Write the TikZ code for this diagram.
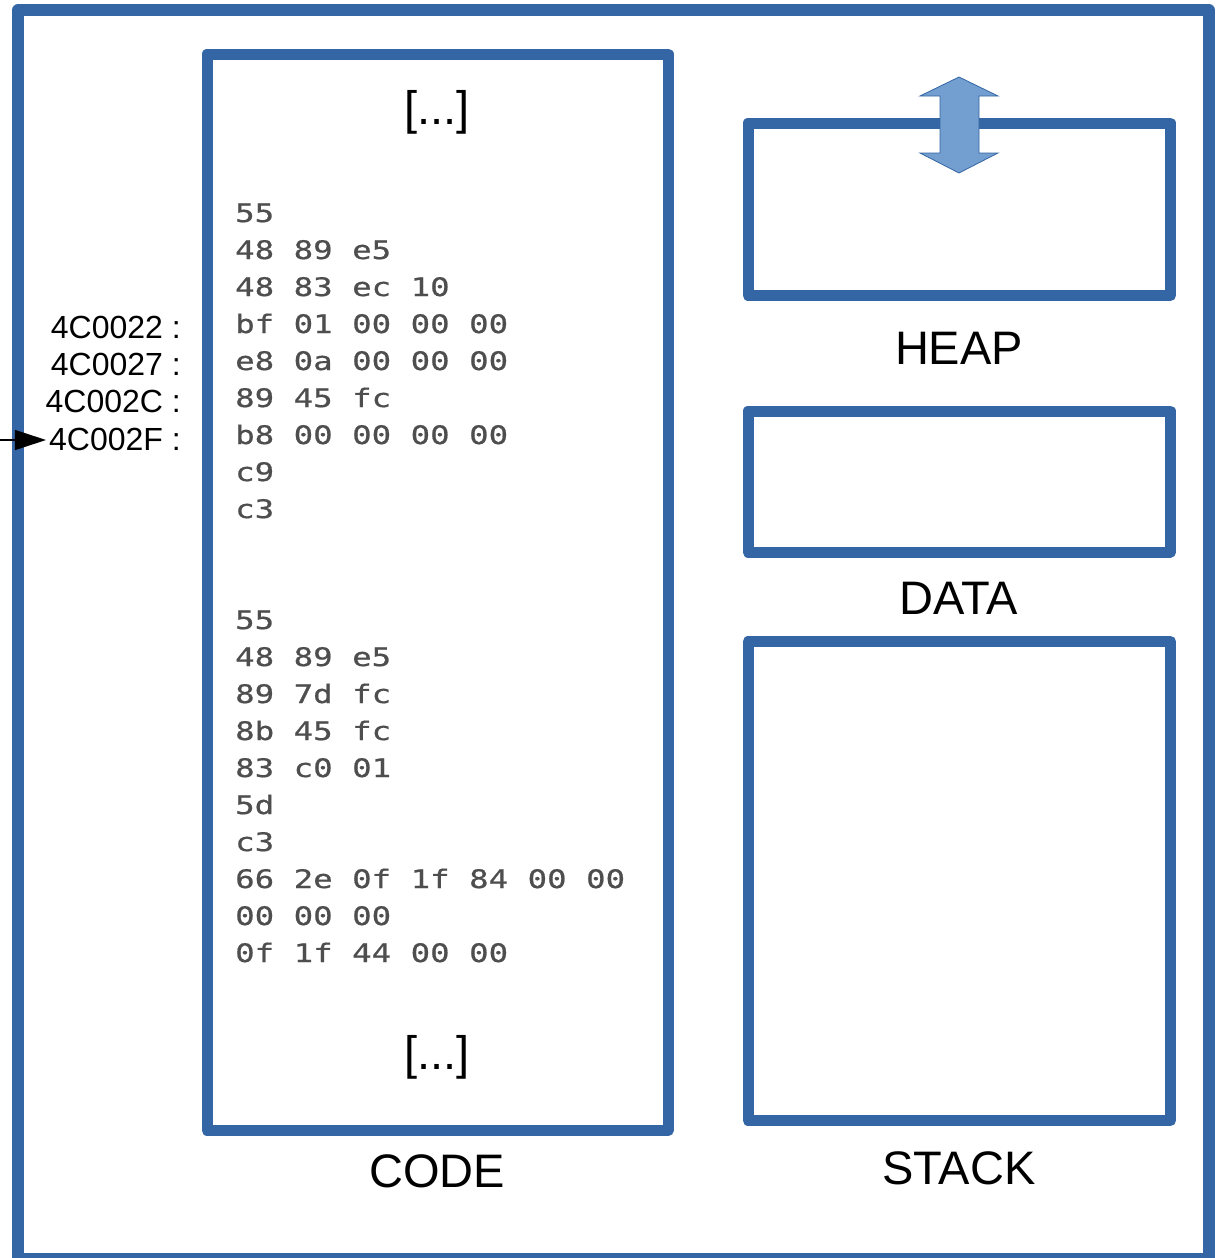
\documentclass[tikz,border=0pt]{standalone}
\usepackage{fontspec}
\setmainfont{Liberation Sans}
\newfontfamily\hexfont[FakeStretch=1.27,FakeBold=0.7]{DejaVu Sans Mono}
\usetikzlibrary{arrows.meta}
\definecolor{frameblue}{RGB}{52,101,164}
\definecolor{arrowfill}{RGB}{114,159,207}
\definecolor{hexgray}{RGB}{78,78,78}
\begin{document}
\begin{tikzpicture}[x=1pt,y=-1pt,
  box/.style={draw=frameblue,line width=11pt,line join=round,inner sep=0pt,outer sep=0pt},
  biglbl/.style={font=\fontsize{47}{56}\selectfont,inner sep=0pt},
  addr/.style={font=\fontsize{32}{37}\selectfont,inner sep=0pt,anchor=base east},
  hex/.style={font=\hexfont\fontsize{25.5}{37}\selectfont,text=hexgray,inner sep=0pt,anchor=base west}]
\useasboundingbox (0,0) rectangle (1218,1258);
% outer frame
\node[box,line width=11.5pt,minimum width=1191pt,minimum height=1248.5pt] (mem) at (613.5,634.25) {};
% segments
\node[box,minimum width=461pt,minimum height=1076.5pt] (code) at (437.5,592.25) {};
\node[box,minimum width=422.5pt,minimum height=172.5pt] (heap) at (959.25,209.25) {};
\node[box,minimum width=422.5pt,minimum height=141pt] (data) at (959.25,481.5) {};
\node[box,minimum width=422.5pt,minimum height=479pt] (stack) at (959.25,881) {};
% heap growth arrow
\filldraw[fill=arrowfill,draw=frameblue,line width=0.8pt,line join=miter]
  (959,77) -- (998,96) -- (979,96) -- (979,153) -- (998,153) -- (959,173)
  -- (920,153) -- (940,153) -- (940,96) -- (920,96) -- cycle;
% labels
\node[biglbl] (codelbl) at (437,1171) {CODE};
\node[biglbl] (heaplbl) at (959,348.5) {HEAP};
\node[biglbl] (datalbl) at (959,598) {DATA};
\node[biglbl] (stacklbl) at (959,1168) {STACK};
\node[biglbl] (dotstop) at (437,112) {[...]};
\node[biglbl] (dotsbot) at (437,1057.5) {[...]};
% hex bytes
\foreach \t [count=\i from 0] in {55,48 89 e5,48 83 ec 10,bf 01 00 00 00,e8 0a 00 00 00,89 45 fc,b8 00 00 00 00,c9,c3}
  \node[hex] (ha\i) at (235,222+37*\i) {\t};
\foreach \t [count=\i from 0] in {55,48 89 e5,89 7d fc,8b 45 fc,83 c0 01,5d,c3,66 2e 0f 1f 84 00 00,00 00 00,0f 1f 44 00 00}
  \node[hex] (hb\i) at (235,629+37*\i) {\t};
% addresses
\node[addr] (a1) at (181,338) {4C0022 :};
\node[addr] (a2) at (181,375) {4C0027 :};
\node[addr] (a3) at (181,412.5) {4C002C :};
\node[addr] (a4) at (181,450) {4C002F :};
\coordinate (src) at (-2,440);
\draw[line width=1.1pt,-{Triangle[length=31pt,width=20pt]}] (src) -- ([xshift=-3pt]src -| a4.west);
\end{tikzpicture}
\end{document}
